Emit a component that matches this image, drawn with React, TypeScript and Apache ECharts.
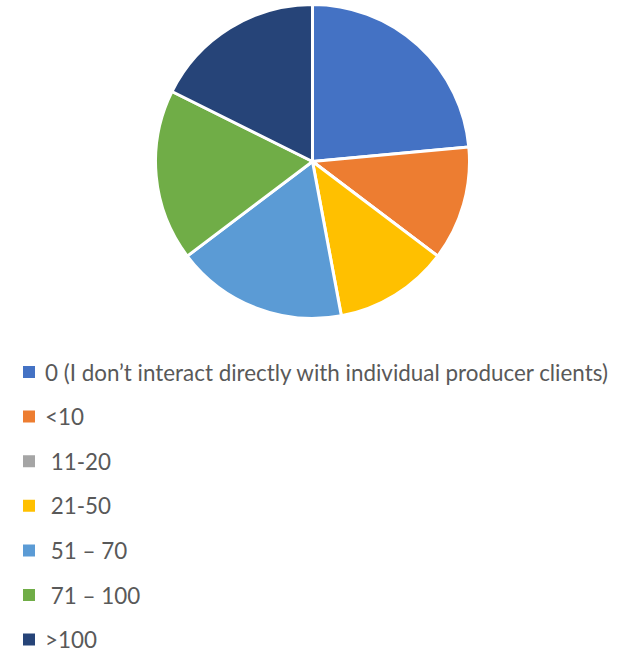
import React, { useEffect, useRef } from "react";
import * as echarts from "echarts";

const categories = [
  "0 (I don’t interact directly with individual producer clients)",
  "<10",
  " 11-20",
  " 21-50",
  " 51 – 70",
  " 71 – 100",
  ">100",
];
const values = [4, 2, 0, 2, 3, 3, 3];
const colors = ["#4472C4", "#ED7D31", "#A5A5A5", "#FFC000", "#5B9BD5", "#70AD47", "#264478"];

export default function App() {
  const ref = useRef<HTMLDivElement>(null);
  useEffect(() => {
    const chart = echarts.init(ref.current!, null, { renderer: "svg" });
    chart.setOption({
      animation: false,
      backgroundColor: "#ffffff",
      color: colors,
      legend: {
        orient: "vertical",
        left: 21,
        top: 360,
        height: 300,
        padding: 0,
        itemWidth: 14,
        itemHeight: 14,
        itemGap: 20.6,
        icon: "rect",
        selectedMode: false,
        textStyle: {
          fontFamily: "Lato",
          fontSize: 22.4,
          lineHeight: 24,
          color: "#595959",
          padding: [0, 0, 0, 4],
        },
        data: categories,
      },
      series: [
        {
          type: "pie",
          center: [312.5, 161.5],
          radius: 157,
          startAngle: 90,
          clockwise: true,
          label: { show: false },
          labelLine: { show: false },
          emphasis: { disabled: true },
          itemStyle: { borderColor: "#ffffff", borderWidth: 3 },
          data: categories.map((name, i) => ({ name, value: values[i] })),
        },
      ],
    });
    return () => chart.dispose();
  }, []);
  return <div ref={ref} style={{ width: 618, height: 653, position: "absolute", left: 0, top: 0 }} />;
}
